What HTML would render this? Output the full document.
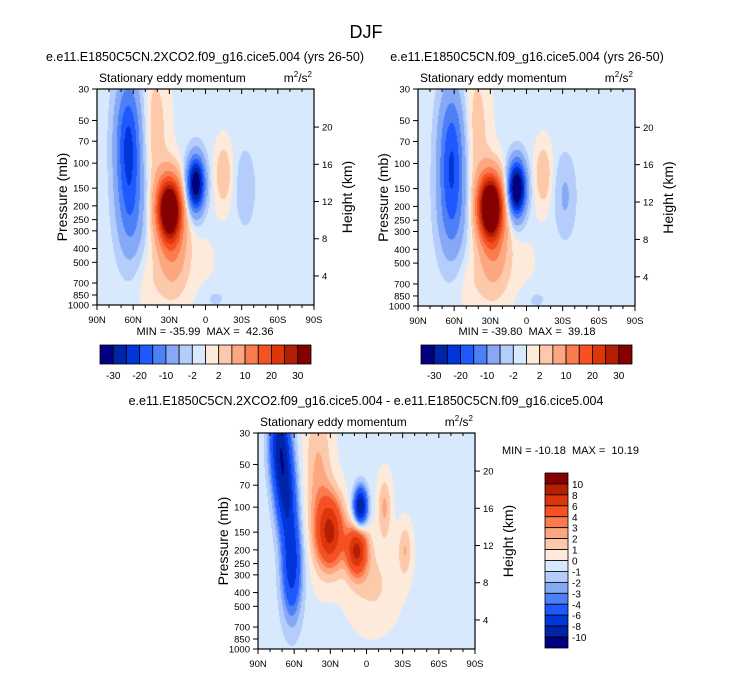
<!DOCTYPE html>
<html><head><meta charset="utf-8"><style>
html,body{margin:0;padding:0;background:#fff;width:733px;height:673px;overflow:hidden}
canvas{position:absolute}
svg{position:absolute;left:0;top:0}
text{font-family:"Liberation Sans",sans-serif;fill:#000;white-space:pre}
</style></head><body>
<canvas id="c1" width="217" height="216" style="left:97px;top:89px"></canvas>
<canvas id="c2" width="217" height="217" style="left:418px;top:89px"></canvas>
<canvas id="c3" width="217" height="216" style="left:258px;top:433px"></canvas>
<svg id="s" width="733" height="673"></svg>
<script>
// ---- data ----
const pressureTicks=[30,50,70,100,150,200,250,300,400,500,700,850,1000];
const heightTicks=[4,8,12,16,20];
const latTicks=[90,60,30,0,-30,-60,-90];
const latLabels=["90N","60N","30N","0","30S","60S","90S"];
const levels12=[-30,-25,-20,-15,-10,-5,-2,0,2,5,10,15,20,25,30];
const levels12Labels=["-30","-20","-10","-2","2","10","20","30"];
const levelsDiff=[-10,-8,-6,-4,-3,-2,-1,0,1,2,3,4,6,8,10];
const palette=["#000080","#0024a8","#0035d9","#2058ff","#4c80f7","#86a9f7","#b4cdfa","#d8e9fd","#feeadb","#fdc9ab","#fca77f","#f97b4e","#f55124","#dd360b","#b41f04","#850000"];
// panel 1 (2xCO2) blobs
const p1Lat=[64,62,30,27,42,8,-15,-33,-8,45,20];
const p1P=[70,220,210,380,60,140,120,150,900,700,500];
const p1Amp=[-20,-10,44,8,4,-36,5,-3.5,-2,1.5,1.5];
const p1SLat=[7.5,8,7,8,8,5,5,6,8,10,20];
const p1SLnP=[0.7,0.6,0.35,0.5,0.8,0.3,0.35,0.45,0.15,0.4,0.5];
// panel 2 (control) blobs
const p2Lat=[62,62,30,27,42,8,-14,-32,-8,45,20];
const p2P=[80,220,200,380,60,150,120,170,900,700,500];
const p2Amp=[-17,-10,48,8,4,-40,5,-5,-2,1.5,1.5];
const p2SLat=[7.5,8,7,8,8,5,5,6,8,10,20];
const p2SLnP=[0.7,0.6,0.35,0.5,0.8,0.3,0.35,0.45,0.15,0.4,0.5];
// panel 3 (difference) blobs
const p3Lat=[72,67,62,30,8,5,40,-15,-32,-5,62];
const p3P=[35,80,230,150,200,100,60,100,200,350,350];
const p3Amp=[-8,-7,-5.5,8.5,8.5,-10,2.5,2.5,2.2,1.5,-2];
const p3SLat=[6,6,5.5,8,6,4,8,4,4,15,7];
const p3SLnP=[0.5,0.5,0.55,0.4,0.28,0.22,0.9,0.35,0.3,0.5,0.6];
const p1Base=-0.6,p2Base=-0.6,p3Base=-0.3;

const LNTOP=Math.log(30),LNSPAN=Math.log(1000/30);
function field(lat,p,L,P,A,SL,SP,base){
  let v=base;const lp=Math.log(p);
  for(let i=0;i<L.length;i++){
    const dx=(lat-L[i])/SL[i],dy=(lp-Math.log(P[i]))/SP[i];
    v+=A[i]*Math.exp(-0.5*(dx*dx+dy*dy));
  }
  return v;
}
function colorFor(v,lev){let k=0;while(k<lev.length&&v>=lev[k])k++;return palette[k];}
function hex(c){return [parseInt(c.substr(1,2),16),parseInt(c.substr(3,2),16),parseInt(c.substr(5,2),16)];}
function drawCanvas(id,L,P,A,SL,SP,base,lev){
  const cv=document.getElementById(id),ctx=cv.getContext('2d');
  const w=cv.width,h=cv.height,img=ctx.createImageData(w,h);
  for(let y=0;y<h;y++){
    const p=Math.exp(LNTOP+(y+0.5)/h*LNSPAN);
    for(let x=0;x<w;x++){
      const lat=90-(x+0.5)/w*180;
      const c=hex(colorFor(field(lat,p,L,P,A,SL,SP,base),lev));
      const o=(y*w+x)*4;img.data[o]=c[0];img.data[o+1]=c[1];img.data[o+2]=c[2];img.data[o+3]=255;
    }
  }
  ctx.putImageData(img,0,0);
}
drawCanvas('c1',p1Lat,p1P,p1Amp,p1SLat,p1SLnP,p1Base,levels12);
drawCanvas('c2',p2Lat,p2P,p2Amp,p2SLat,p2SLnP,p2Base,levels12);
drawCanvas('c3',p3Lat,p3P,p3Amp,p3SLat,p3SLnP,p3Base,levelsDiff);

const NS='http://www.w3.org/2000/svg',svg=document.getElementById('s');
function el(t,a,txt){const e=document.createElementNS(NS,t);for(const k in a)e.setAttribute(k,a[k]);if(txt!==undefined)e.textContent=txt;svg.appendChild(e);return e;}
function txt(x,y,s,size,anchor,name,extra){
  const e=el('text',Object.assign({x:x,y:y,'font-size':size,'text-anchor':anchor||'middle'},extra||{}),s);
  
  
  return e;
}
function axes(x0,y0,w,h,pfx){
  const ys=p=>y0+Math.log(p/30)/LNSPAN*h, xs=lat=>x0+(90-lat)/180*w;
  const fr=el('rect',{x:x0,y:y0,width:w,height:h,fill:'none',stroke:'#000','stroke-width':1.2});
  
  
  pressureTicks.forEach(p=>{const y=ys(p);
    el('line',{x1:x0-5,x2:x0,y1:y,y2:y,stroke:'#000'});
    txt(x0-8,y+3.5,String(p),9.5,'end',pfx+'-pressure-tick');});
  heightTicks.forEach(z=>{const p=1142*Math.exp(-z/6.62),y=ys(p);
    el('line',{x1:x0+w,x2:x0+w+5,y1:y,y2:y,stroke:'#000'});
    txt(x0+w+8,y+3.5,String(z),9.5,'start',pfx+'-height-tick');});
  for(let lat=90;lat>=-90;lat-=10){const x=xs(lat),maj=lat%30===0;
    el('line',{x1:x,x2:x,y1:y0+h,y2:y0+h+(maj?5:3),stroke:'#000'});
    el('line',{x1:x,x2:x,y1:y0,y2:y0+(maj?5:3),stroke:'#000'});}
  latTicks.forEach((lat,i)=>txt(xs(lat),y0+h+18,latLabels[i],9.5,'middle',pfx+'-lat-tick'));
  txt(x0-35,y0+h/2,'Pressure (mb)',14,'middle',pfx+'-y-axis-title',{transform:`rotate(-90 ${x0-35} ${y0+h/2})`,dy:5});
  txt(x0+w+33,y0+h/2,'Height (km)',14,'middle',pfx+'-right-axis-title',{transform:`rotate(-90 ${x0+w+33} ${y0+h/2})`,dy:5});
  txt(x0+2,y0-7,'Stationary eddy momentum',12,'start',pfx+'-variable-label');
  const u=txt(x0+w-2,y0-7,'',12,'end',pfx+'-units-label');
  u.innerHTML='m<tspan dy="-5" font-size="8">2</tspan><tspan dy="5">/s</tspan><tspan dy="-5" font-size="8">2</tspan>';
}
function hbar(x0,y0,w,h,lev,labs,pfx){
  const n=palette.length,bw=w/n;
  palette.forEach((c,i)=>{const r=el('rect',{x:x0+i*bw,y:y0,width:bw,height:h,fill:c,stroke:'#000','stroke-width':0.8});
    });
  labs.forEach((l,j)=>txt(x0+(2*j+1)*bw,y0+h+15,l,10,'middle',pfx+'-colorbar-label'));
}
function vbar(x0,y0,w,h,lev,pfx){
  const n=palette.length,bh=h/n;
  for(let i=0;i<n;i++){const r=el('rect',{x:x0,y:y0+i*bh,width:w,height:bh,fill:palette[n-1-i],stroke:'#000','stroke-width':0.8});
    }
  for(let j=0;j<lev.length;j++){txt(x0+w+4,y0+(j+1)*bh+4,String(lev[lev.length-1-j]),10,'start',pfx+'-colorbar-label');}
}
txt(366,38,'DJF',18,'middle','figure-title');
txt(205,61,'e.e11.E1850C5CN.2XCO2.f09_g16.cice5.004 (yrs 26-50)',12.5,'middle','panel1-title');
txt(527,61,'e.e11.E1850C5CN.f09_g16.cice5.004 (yrs 26-50)',12.5,'middle','panel2-title');
txt(366,405,'e.e11.E1850C5CN.2XCO2.f09_g16.cice5.004 - e.e11.E1850C5CN.f09_g16.cice5.004',12.5,'middle','panel3-title');
axes(97,89,217,216,'panel1');
axes(418,89,217,217,'panel2');
axes(258,433,217,216,'panel3');
txt(205,335,'MIN = -35.99  MAX =  42.36',11,'middle','panel1-minmax');
txt(527,335,'MIN = -39.80  MAX =  39.18',11,'middle','panel2-minmax');
txt(502,454,'MIN = -10.18  MAX =  10.19',11,'start','panel3-minmax');
hbar(100,345,211,19,levels12,levels12Labels,'panel1');
hbar(421,345,211,19,levels12,levels12Labels,'panel2');
vbar(545,473,23,175,levelsDiff,'panel3');
</script></body></html>
